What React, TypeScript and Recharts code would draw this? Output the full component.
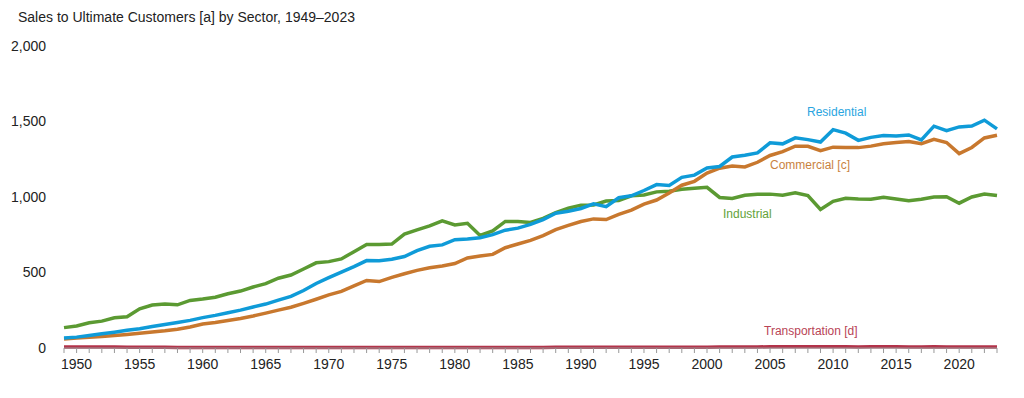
import { LineChart, Line, XAxis, YAxis } from 'recharts';

const years: number[] = [];
for (let y = 1949; y <= 2023; y++) years.push(y);

// billion kWh
const residential = [
  67, 72, 83, 94, 105, 117, 128, 142, 156, 169, 183, 201, 216, 234, 251, 272, 291, 317, 342, 381,
  427, 466, 503, 539, 579, 578, 588, 606, 645, 674, 683, 717, 722, 730, 751, 780, 794, 819, 850, 893,
  906, 924, 955, 936, 995, 1008, 1043, 1082, 1076, 1130, 1145, 1192, 1202, 1265, 1276, 1292, 1359, 1352,
  1392, 1380, 1364, 1446, 1423, 1375, 1395, 1407, 1404, 1411, 1378, 1469, 1440, 1464, 1470, 1509, 1451,
];
const commercial = [
  59, 66, 71, 76, 82, 89, 97, 106, 114, 124, 139, 159, 169, 182, 196, 212, 231, 251, 270, 296,
  323, 352, 375, 411, 447, 440, 468, 492, 514, 531, 543, 559, 596, 609, 620, 664, 689, 713, 744, 784,
  812, 838, 855, 851, 885, 913, 953, 980, 1027, 1078, 1104, 1159, 1191, 1205, 1199, 1230, 1275, 1300,
  1336, 1336, 1307, 1330, 1328, 1327, 1337, 1352, 1361, 1367, 1353, 1382, 1361, 1287, 1328, 1391, 1409,
];
const industrial = [
  135, 146, 167, 178, 200, 207, 260, 285, 292, 286, 315, 324, 336, 359, 377, 404, 426, 462, 483, 523,
  564, 572, 590, 638, 686, 685, 688, 754, 782, 809, 842, 815, 826, 745, 776, 838, 837, 831, 858, 896,
  926, 946, 947, 973, 977, 1008, 1013, 1034, 1038, 1051, 1058, 1064, 997, 990, 1012, 1018, 1019, 1011,
  1028, 1009, 917, 971, 991, 986, 985, 998, 987, 976, 985, 1000, 1002, 959, 1000, 1020, 1010,
];
const transportation = [
  6, 6, 6, 6, 6, 5, 5, 5, 5, 4, 4, 4, 4, 4, 3, 3, 3, 3, 3, 3,
  3, 3, 3, 3, 3, 3, 3, 3, 3, 3, 3, 3, 3, 3, 4, 4, 4, 4, 4, 5,
  5, 5, 5, 5, 5, 5, 5, 5, 5, 5, 5, 5, 6, 6, 7, 7, 8, 8,
  8, 8, 8, 8, 8, 7, 8, 8, 8, 7, 7, 8, 7, 6, 6, 7, 7,
];

const yTicks = [0, 500, 1000, 1500, 2000];

const data = years.map((year, i) => ({
  year,
  residential: residential[i],
  commercial: commercial[i],
  industrial: industrial[i],
  transportation: transportation[i],
}));

const font = '"Liberation Sans", Arial, sans-serif';

const labelStyle = (color: string, left: number, top: number): React.CSSProperties => ({
  position: 'absolute',
  left,
  top,
  color,
  fontSize: 12,
  fontFamily: font,
  whiteSpace: 'nowrap',
});

export default function App() {
  return (
    <div style={{ position: 'absolute', left: 0, top: 0, width: 1024, height: 398, background: '#fff', fontFamily: font }}>
      <div style={{ position: 'absolute', left: 18, top: 9, fontSize: 14, color: '#222' }}>
        Sales to Ultimate Customers [a] by Sector, 1949–2023
      </div>
      <LineChart width={1024} height={398} data={data} margin={{ top: 46, right: 27, left: 0, bottom: 0 }}>
        <XAxis
          dataKey="year"
          type="number"
          domain={[1949, 2023]}
          ticks={years}
          interval={0}
          height={50}
          tickSize={5}
          tickMargin={6}
          tickFormatter={(v) => (v % 5 === 0 ? String(v) : '')}
          stroke="#999"
          tick={{ fontSize: 14, fill: '#222', fontFamily: font }}
        />
        <YAxis
          domain={[0, 2000]}
          ticks={yTicks}
          width={64}
          axisLine={false}
          tickLine={false}
          tickMargin={12}
          tickFormatter={(v) => v.toLocaleString('en-US')}
          tick={{ fontSize: 14, fill: '#222', fontFamily: font }}
        />
        <Line dataKey="industrial" stroke="#5b9a32" strokeWidth={3.5} dot={false} isAnimationActive={false} />
        <Line dataKey="commercial" stroke="#c8782e" strokeWidth={3.5} dot={false} isAnimationActive={false} />
        <Line dataKey="residential" stroke="#0f9bd8" strokeWidth={3.5} dot={false} isAnimationActive={false} />
        <Line dataKey="transportation" stroke="#b3334a" strokeWidth={3.5} dot={false} isAnimationActive={false} />
      </LineChart>
      <div style={labelStyle('#2aa5df', 807, 105)}>Residential</div>
      <div style={labelStyle('#c9823e', 770, 158)}>Commercial [c]</div>
      <div style={labelStyle('#63a23a', 723, 207)}>Industrial</div>
      <div style={labelStyle('#b94456', 764, 324)}>Transportation [d]</div>
    </div>
  );
}
